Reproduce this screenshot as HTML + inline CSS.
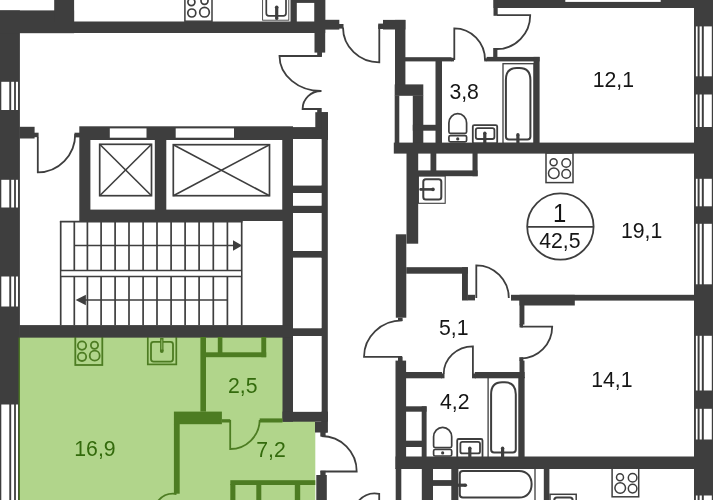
<!DOCTYPE html>
<html><head><meta charset="utf-8"><title>Floor plan</title>
<style>
html,body{margin:0;padding:0;background:#fff;}
body{width:713px;height:500px;overflow:hidden;}
svg{display:block;font-family:"Liberation Sans",Arial,sans-serif;will-change:transform;}
</style></head><body>
<svg width="713" height="500" viewBox="0 0 713 500">
<rect width="713" height="500" fill="#fff"/>
<rect x="19.5" y="337" width="264" height="163" fill="#b1d58b"/>
<rect x="282.5" y="421" width="32.8" height="79" fill="#b1d58b"/>
<rect x="0" y="10.4" width="19.9" height="490.6" fill="#3e3e3e"/>
<rect x="0" y="10.4" width="74.1" height="22.8" fill="#3e3e3e"/>
<rect x="54.2" y="0" width="19.9" height="22" fill="#3e3e3e"/>
<rect x="69" y="21.5" width="256.2" height="11.5" fill="#3e3e3e"/>
<rect x="290.5" y="0" width="34.7" height="22" fill="#3e3e3e"/>
<rect x="296.8" y="2.9" width="17.7" height="18.6" fill="#fff"/>
<rect x="314.5" y="0" width="10.7" height="52.6" fill="#3e3e3e"/>
<rect x="317.2" y="52" width="4.8" height="4.9" fill="#3e3e3e"/>
<rect x="325" y="19.8" width="14.3" height="9.8" fill="#3e3e3e"/>
<rect x="339" y="24" width="4.5" height="4.6" fill="#3e3e3e"/>
<rect x="315.3" y="112.2" width="12.7" height="15.8" fill="#3e3e3e"/>
<rect x="317.2" y="108" width="4.5" height="5" fill="#3e3e3e"/>
<rect x="1.3" y="81.8" width="8" height="28.2" fill="#fff"/>
<rect x="11.2" y="81.8" width="2.9" height="28.2" fill="#fff"/>
<rect x="15.9" y="81.8" width="2.1" height="28.2" fill="#fff"/>
<rect x="1.3" y="179.8" width="8" height="27.7" fill="#fff"/>
<rect x="11.2" y="179.8" width="2.9" height="27.7" fill="#fff"/>
<rect x="15.9" y="179.8" width="2.1" height="27.7" fill="#fff"/>
<rect x="1.3" y="276.5" width="8" height="30" fill="#fff"/>
<rect x="11.2" y="276.5" width="2.9" height="30" fill="#fff"/>
<rect x="15.9" y="276.5" width="2.1" height="30" fill="#fff"/>
<rect x="1.3" y="404.5" width="8" height="96.5" fill="#fff"/>
<rect x="11.2" y="404.5" width="2.9" height="96.5" fill="#fff"/>
<rect x="15.9" y="404.5" width="2.1" height="96.5" fill="#fff"/>
<rect x="18.6" y="337.5" width="1.3" height="163.5" fill="#4d7c22"/>
<rect x="19.5" y="126.8" width="15.1" height="11.7" fill="#3e3e3e"/>
<rect x="34" y="132.7" width="4.6" height="4.5" fill="#3e3e3e"/>
<rect x="74.5" y="132.7" width="5.5" height="4.7" fill="#3e3e3e"/>
<path d="M37.8 137 L37.8 172.3 A37.4 38 0 0 0 75.2 134" fill="none" stroke="#3e3e3e" stroke-width="1.8"/>
<rect x="79.3" y="126.3" width="213.7" height="94.7" fill="#3e3e3e"/>
<rect x="285.5" y="127.1" width="42.5" height="12.9" fill="#3e3e3e"/>
<rect x="90.4" y="140" width="64.4" height="69.6" fill="#fff"/>
<rect x="166.3" y="140" width="116.2" height="69.6" fill="#fff"/>
<rect x="109.8" y="128.4" width="36.7" height="9.3" fill="#fff"/>
<rect x="175.7" y="128.4" width="58.3" height="9.3" fill="#fff"/>
<rect x="99.7" y="144.3" width="51.8" height="51.4" fill="none" stroke="#3e3e3e" stroke-width="1.7"/>
<line x1="99.7" y1="144.3" x2="151.5" y2="195.7" stroke="#3e3e3e" stroke-width="1.6"/>
<line x1="151.5" y1="144.3" x2="99.7" y2="195.7" stroke="#3e3e3e" stroke-width="1.6"/>
<rect x="173.3" y="144.7" width="96.2" height="51" fill="none" stroke="#3e3e3e" stroke-width="1.7"/>
<line x1="173.3" y1="144.7" x2="269.5" y2="195.7" stroke="#3e3e3e" stroke-width="1.6"/>
<line x1="269.5" y1="144.7" x2="173.3" y2="195.7" stroke="#3e3e3e" stroke-width="1.6"/>
<rect x="282.5" y="127.1" width="10.5" height="294.6" fill="#3e3e3e"/>
<rect x="321.2" y="112.2" width="6.6" height="320.4" fill="#3e3e3e"/>
<rect x="282.5" y="411.6" width="45.5" height="10.1" fill="#3e3e3e"/>
<rect x="315" y="421.7" width="12.5" height="10.8" fill="#3e3e3e"/>
<rect x="320.3" y="432" width="5.3" height="4.6" fill="#3e3e3e"/>
<rect x="293" y="139" width="28.6" height="46.6" fill="#fff"/>
<rect x="293" y="193" width="28.6" height="12.8" fill="#fff"/>
<rect x="293" y="213" width="28.6" height="38" fill="#fff"/>
<rect x="293" y="257.6" width="28.6" height="70.7" fill="#fff"/>
<rect x="293" y="336" width="28.6" height="75.6" fill="#fff"/>
<rect x="292" y="185.6" width="31" height="7.4" fill="#3e3e3e"/>
<rect x="292" y="205.8" width="31" height="7.2" fill="#3e3e3e"/>
<rect x="292" y="251" width="31" height="6.6" fill="#3e3e3e"/>
<rect x="292" y="328.3" width="31" height="7.7" fill="#3e3e3e"/>
<line x1="60.7" y1="221" x2="60.7" y2="325.3" stroke="#3e3e3e" stroke-width="1.7"/>
<line x1="74.3" y1="221" x2="74.3" y2="325.3" stroke="#3e3e3e" stroke-width="1.7"/>
<line x1="87.4" y1="221" x2="87.4" y2="325.3" stroke="#3e3e3e" stroke-width="1.7"/>
<line x1="101.1" y1="221" x2="101.1" y2="325.3" stroke="#3e3e3e" stroke-width="1.7"/>
<line x1="115.1" y1="221" x2="115.1" y2="325.3" stroke="#3e3e3e" stroke-width="1.7"/>
<line x1="129" y1="221" x2="129" y2="325.3" stroke="#3e3e3e" stroke-width="1.7"/>
<line x1="143.1" y1="221" x2="143.1" y2="325.3" stroke="#3e3e3e" stroke-width="1.7"/>
<line x1="157" y1="221" x2="157" y2="325.3" stroke="#3e3e3e" stroke-width="1.7"/>
<line x1="171.1" y1="221" x2="171.1" y2="325.3" stroke="#3e3e3e" stroke-width="1.7"/>
<line x1="185.1" y1="221" x2="185.1" y2="325.3" stroke="#3e3e3e" stroke-width="1.7"/>
<line x1="199.1" y1="221" x2="199.1" y2="325.3" stroke="#3e3e3e" stroke-width="1.7"/>
<line x1="213.3" y1="221" x2="213.3" y2="325.3" stroke="#3e3e3e" stroke-width="1.7"/>
<line x1="227.4" y1="221" x2="227.4" y2="325.3" stroke="#3e3e3e" stroke-width="1.7"/>
<line x1="241.7" y1="221" x2="241.7" y2="325.3" stroke="#3e3e3e" stroke-width="1.7"/>
<line x1="59.9" y1="221.7" x2="242.5" y2="221.7" stroke="#3e3e3e" stroke-width="1.7"/>
<rect x="61.6" y="270.6" width="179.4" height="5.7" fill="#fff"/>
<line x1="60.6" y1="270.5" x2="242" y2="270.5" stroke="#3e3e3e" stroke-width="1.5"/>
<line x1="60.6" y1="276.4" x2="242" y2="276.4" stroke="#3e3e3e" stroke-width="1.5"/>
<line x1="74.3" y1="245.5" x2="236" y2="245.5" stroke="#3e3e3e" stroke-width="1.7"/>
<path d="M242.2 245.4 L233 240.2 L233 250.8 Z" fill="#3e3e3e" stroke="#3e3e3e" stroke-width="0"/>
<line x1="84" y1="300" x2="227.4" y2="300" stroke="#3e3e3e" stroke-width="1.7"/>
<path d="M75.6 300 L85.9 294.7 L85.9 305.3 Z" fill="#3e3e3e" stroke="#3e3e3e" stroke-width="0"/>
<rect x="19.5" y="325.3" width="273.5" height="12.1" fill="#3e3e3e"/>
<rect x="75.3" y="336" width="27" height="29" fill="none" stroke="#4d7c22" stroke-width="1.8"/>
<circle cx="82" cy="345.6" r="4.2" fill="none" stroke="#4d7c22" stroke-width="1.8"/>
<circle cx="94.5" cy="345.2" r="3.6" fill="none" stroke="#4d7c22" stroke-width="1.8"/>
<circle cx="82" cy="356.8" r="4.2" fill="none" stroke="#4d7c22" stroke-width="1.8"/>
<circle cx="94.7" cy="355.7" r="5" fill="none" stroke="#4d7c22" stroke-width="1.8"/>
<rect x="147.8" y="336" width="28.5" height="28.4" fill="none" stroke="#4d7c22" stroke-width="1.7"/>
<rect x="151" y="341.8" width="22" height="19.8" fill="none" stroke="#4d7c22" stroke-width="1.8" rx="2.5"/>
<line x1="161.8" y1="338" x2="161.8" y2="351" stroke="#4d7c22" stroke-width="3.4"/>
<circle cx="161.8" cy="351" r="1.9" fill="#4d7c22" stroke="#4d7c22" stroke-width="0"/>
<line x1="161.8" y1="339.5" x2="161.8" y2="349.5" stroke="#9cc474" stroke-width="0.9"/>
<rect x="19.5" y="325.3" width="273.5" height="12.1" fill="#3e3e3e"/>
<rect x="200.4" y="337" width="5.6" height="74.6" fill="#4d7c22"/>
<rect x="217.8" y="337" width="4.6" height="16" fill="#4d7c22"/>
<rect x="205" y="352.3" width="61.2" height="4.9" fill="#4d7c22"/>
<rect x="261.3" y="337" width="4.9" height="20.2" fill="#4d7c22"/>
<rect x="173.9" y="411.6" width="48" height="12.6" fill="#4d7c22"/>
<rect x="173.9" y="424" width="5.8" height="69.7" fill="#4d7c22"/>
<rect x="221.9" y="419.2" width="8.3" height="3.3" fill="#4d7c22"/>
<path d="M230.2 420 L230.2 449 A29.5 29.5 0 0 0 259.7 420" fill="none" stroke="#4d7c22" stroke-width="1.8"/>
<rect x="259.7" y="418.4" width="22.8" height="4.1" fill="#4d7c22"/>
<rect x="230.3" y="480.2" width="85" height="4.8" fill="#4d7c22"/>
<rect x="230.3" y="484" width="5.1" height="16" fill="#4d7c22"/>
<rect x="256.3" y="485" width="5" height="15" fill="#4d7c22"/>
<rect x="294.8" y="484" width="5.4" height="16" fill="#4d7c22"/>
<path d="M158 501 A 20 20 0 0 1 176.5 494" fill="none" stroke="#4d7c22" stroke-width="1.8"/>
<text transform="translate(74.3 455.8) scale(0.965 1)" fill="#336a0c" font-size="22" text-anchor="start">16,9</text>
<text transform="translate(228 392.9) scale(0.965 1)" fill="#336a0c" font-size="22" text-anchor="start">2,5</text>
<text transform="translate(256.3 456.8) scale(0.965 1)" fill="#336a0c" font-size="22" text-anchor="start">7,2</text>
<path d="M321 56 L279.5 56 A41.5 35 0 0 0 321.5 91 A18.7 18 0 0 0 302.6 109 L320 109" fill="none" stroke="#3e3e3e" stroke-width="1.8"/>
<path d="M343 27.5 A36.3 35 0 0 0 379.3 62.4 L379.3 25" fill="none" stroke="#3e3e3e" stroke-width="1.8"/>
<rect x="383" y="19.9" width="22.4" height="9.6" fill="#3e3e3e"/>
<rect x="378.2" y="23.6" width="5.3" height="5.4" fill="#3e3e3e"/>
<path d="M321.5 436 A35.2 35.5 0 0 1 356.7 471.5 L320.5 471.5" fill="none" stroke="#3e3e3e" stroke-width="1.8"/>
<rect x="316.3" y="475" width="10.5" height="25" fill="#3e3e3e"/>
<rect x="320.3" y="470.8" width="5.3" height="5.2" fill="#3e3e3e"/>
<path d="M358.6 501 A 21.5 21 0 0 1 379.2 493.8 L379.2 501" fill="none" stroke="#3e3e3e" stroke-width="1.8"/>
<rect x="395" y="19.9" width="10.4" height="65.1" fill="#3e3e3e"/>
<rect x="394.7" y="84.4" width="28.6" height="11.4" fill="#3e3e3e"/>
<rect x="394.7" y="95.5" width="4.6" height="47.5" fill="#3e3e3e"/>
<rect x="412.8" y="95.5" width="10.5" height="47.5" fill="#3e3e3e"/>
<rect x="405" y="57.2" width="46.5" height="4.2" fill="#3e3e3e"/>
<rect x="451" y="57.8" width="3" height="3.6" fill="#3e3e3e"/>
<rect x="435.5" y="61" width="6.5" height="82" fill="#3e3e3e"/>
<rect x="412.8" y="124.8" width="29.2" height="5.9" fill="#3e3e3e"/>
<path d="M454.3 60 L454.3 28.3 A30.7 31.5 0 0 1 485 60" fill="none" stroke="#3e3e3e" stroke-width="1.8"/>
<rect x="486.6" y="56.9" width="53" height="4.5" fill="#3e3e3e"/>
<rect x="484.2" y="58.3" width="2.8" height="3.1" fill="#3e3e3e"/>
<rect x="493.2" y="48" width="4.2" height="9.5" fill="#3e3e3e"/>
<rect x="493.5" y="0" width="219.5" height="8" fill="#3e3e3e"/>
<rect x="493.5" y="0" width="4.2" height="15.8" fill="#3e3e3e"/>
<rect x="565.3" y="0" width="95.4" height="1.9" fill="#fff"/>
<path d="M497 15.2 L530.2 15.2 A33.2 33.8 0 0 1 497 49" fill="none" stroke="#3e3e3e" stroke-width="1.8"/>
<rect x="533.6" y="56.9" width="6" height="86.1" fill="#3e3e3e"/>
<rect x="503" y="63.7" width="31" height="79.8" fill="none" stroke="#3e3e3e" stroke-width="1.3"/>
<path d="M505.9 136.6 L505.9 79.9 C505.9 71.4 509.9 67.9 516.9 67.9 L519.4 67.9 C526.4 67.9 530.4 71.4 530.4 79.9 L530.4 136.6 Q530.4 139.6 527.4 139.6 L508.9 139.6 Q505.9 139.6 505.9 136.6 Z" fill="none" stroke="#3e3e3e" stroke-width="2"/>
<line x1="517.9" y1="135" x2="517.9" y2="143" stroke="#3e3e3e" stroke-width="3.2"/>
<circle cx="517.9" cy="134.8" r="1.7" fill="#3e3e3e" stroke="#3e3e3e" stroke-width="0"/>
<path d="M448.9 131.8 L448.9 123.05 A8.85 9.35 0 0 1 466.6 123.05 L466.6 131.8 Q466.6 133.3 465.1 133.3 L450.4 133.3 Q448.9 133.3 448.9 131.8 Z" fill="none" stroke="#3e3e3e" stroke-width="1.7"/>
<rect x="448.9" y="135.6" width="17.7" height="6.2" fill="none" stroke="#3e3e3e" stroke-width="1.7" rx="1.5"/>
<circle cx="457.75" cy="138.9" r="1.6" fill="#3e3e3e" stroke="#3e3e3e" stroke-width="0"/>
<rect x="472.8" y="125.1" width="24.4" height="18.4" fill="none" stroke="#3e3e3e" stroke-width="1.8" rx="1.5"/>
<rect x="475.8" y="128.1" width="18.6" height="10.9" fill="none" stroke="#3e3e3e" stroke-width="1.8" rx="2"/>
<line x1="484.8" y1="133.3" x2="484.8" y2="143.5" stroke="#3e3e3e" stroke-width="3.2"/>
<circle cx="484.8" cy="133.3" r="1.7" fill="#3e3e3e" stroke="#3e3e3e" stroke-width="0"/>
<rect x="393.8" y="142.6" width="300.2" height="11" fill="#3e3e3e"/>
<rect x="406.5" y="153" width="11.7" height="90.7" fill="#3e3e3e"/>
<rect x="395.8" y="234.3" width="10.5" height="83.4" fill="#3e3e3e"/>
<rect x="418" y="170.4" width="59.6" height="5.8" fill="#3e3e3e"/>
<rect x="430.5" y="153" width="5.8" height="18" fill="#3e3e3e"/>
<rect x="472.5" y="153" width="5.1" height="23.2" fill="#3e3e3e"/>
<rect x="418.4" y="176" width="26.8" height="27.3" fill="none" stroke="#3e3e3e" stroke-width="1.1"/>
<rect x="423.3" y="179.3" width="18" height="20.1" fill="none" stroke="#3e3e3e" stroke-width="2" rx="2.5"/>
<line x1="420.6" y1="189.4" x2="432.6" y2="189.4" stroke="#3e3e3e" stroke-width="2.6"/>
<circle cx="420.6" cy="189.4" r="1.3" fill="#3e3e3e" stroke="#3e3e3e" stroke-width="0"/>
<circle cx="433" cy="189.4" r="1.8" fill="#3e3e3e" stroke="#3e3e3e" stroke-width="0"/>
<rect x="546" y="153" width="27" height="29.6" fill="none" stroke="#3e3e3e" stroke-width="1.5"/>
<circle cx="553.6" cy="162.3" r="3.5" fill="none" stroke="#3e3e3e" stroke-width="1.5"/>
<circle cx="566.2" cy="163" r="4.3" fill="none" stroke="#3e3e3e" stroke-width="1.5"/>
<circle cx="553.8" cy="173.3" r="5.3" fill="none" stroke="#3e3e3e" stroke-width="1.5"/>
<circle cx="566.2" cy="173.9" r="4.3" fill="none" stroke="#3e3e3e" stroke-width="1.5"/>
<circle cx="560.4" cy="226.5" r="33.2" fill="none" stroke="#3e3e3e" stroke-width="1.8"/>
<line x1="527.5" y1="226.8" x2="593.5" y2="226.8" stroke="#3e3e3e" stroke-width="1.8"/>
<text transform="translate(559.6 221.6) scale(0.9 1)" fill="#151515" font-size="26.5" text-anchor="middle">1</text>
<text transform="translate(559.8 247.5) scale(0.965 1)" fill="#151515" font-size="22" text-anchor="middle">42,5</text>
<text transform="translate(621 237.5) scale(0.965 1)" fill="#151515" font-size="22" text-anchor="start">19,1</text>
<text transform="translate(592.7 86.5) scale(0.965 1)" fill="#151515" font-size="22" text-anchor="start">12,1</text>
<text transform="translate(449.4 99) scale(0.965 1)" fill="#151515" font-size="22" text-anchor="start">3,8</text>
<text transform="translate(439 334.6) scale(0.965 1)" fill="#151515" font-size="22" text-anchor="start">5,1</text>
<text transform="translate(440 408.6) scale(0.965 1)" fill="#151515" font-size="22" text-anchor="start">4,2</text>
<text transform="translate(591.2 387.4) scale(0.965 1)" fill="#151515" font-size="22" text-anchor="start">14,1</text>
<rect x="694" y="0" width="19" height="500" fill="#3e3e3e"/>
<rect x="695.9" y="26.4" width="1.7" height="49.9" fill="#fff"/>
<rect x="699.6" y="26.4" width="2.2" height="49.9" fill="#fff"/>
<rect x="703.8" y="26.4" width="8" height="49.9" fill="#fff"/>
<rect x="695.9" y="94.5" width="1.7" height="32.5" fill="#fff"/>
<rect x="699.6" y="94.5" width="2.2" height="32.5" fill="#fff"/>
<rect x="703.8" y="94.5" width="8" height="32.5" fill="#fff"/>
<rect x="695.9" y="178.8" width="1.7" height="27.5" fill="#fff"/>
<rect x="699.6" y="178.8" width="2.2" height="27.5" fill="#fff"/>
<rect x="703.8" y="178.8" width="8" height="27.5" fill="#fff"/>
<rect x="695.9" y="223.8" width="1.7" height="60.5" fill="#fff"/>
<rect x="699.6" y="223.8" width="2.2" height="60.5" fill="#fff"/>
<rect x="703.8" y="223.8" width="8" height="60.5" fill="#fff"/>
<rect x="695.9" y="335.8" width="1.7" height="54.7" fill="#fff"/>
<rect x="699.6" y="335.8" width="2.2" height="54.7" fill="#fff"/>
<rect x="703.8" y="335.8" width="8" height="54.7" fill="#fff"/>
<rect x="695.9" y="408.8" width="1.7" height="30.7" fill="#fff"/>
<rect x="699.6" y="408.8" width="2.2" height="30.7" fill="#fff"/>
<rect x="703.8" y="408.8" width="8" height="30.7" fill="#fff"/>
<rect x="695.9" y="495.5" width="1.7" height="5.5" fill="#fff"/>
<rect x="699.6" y="495.5" width="2.2" height="5.5" fill="#fff"/>
<rect x="703.8" y="495.5" width="8" height="5.5" fill="#fff"/>
<rect x="406.3" y="267.2" width="61.6" height="6.5" fill="#3e3e3e"/>
<rect x="462" y="267.2" width="5.9" height="33.3" fill="#3e3e3e"/>
<rect x="467.7" y="294.8" width="7.3" height="5.6" fill="#3e3e3e"/>
<path d="M476.3 298 L476.3 265.4 A32.5 32.6 0 0 1 508.8 298" fill="none" stroke="#3e3e3e" stroke-width="1.8"/>
<rect x="398" y="317.7" width="4.6" height="3.3" fill="#3e3e3e"/>
<path d="M402.3 320.4 A38.3 36.5 0 0 0 364 356.9 L402 356.9" fill="none" stroke="#3e3e3e" stroke-width="1.8"/>
<rect x="398" y="356.6" width="4.6" height="4.4" fill="#3e3e3e"/>
<rect x="395.5" y="360.6" width="10.6" height="108.4" fill="#3e3e3e"/>
<rect x="395.7" y="468" width="5.6" height="32" fill="#3e3e3e"/>
<rect x="406" y="372" width="36" height="6.3" fill="#3e3e3e"/>
<rect x="441" y="373.5" width="3.5" height="4.8" fill="#3e3e3e"/>
<rect x="474.8" y="372" width="49.8" height="6.3" fill="#3e3e3e"/>
<rect x="472" y="373.5" width="4" height="4.8" fill="#3e3e3e"/>
<path d="M472.9 374 L472.9 346.3 A29.2 27.7 0 0 0 443.7 374" fill="none" stroke="#3e3e3e" stroke-width="1.8"/>
<rect x="511" y="294.8" width="183" height="5.8" fill="#3e3e3e"/>
<rect x="519.5" y="294.8" width="55.3" height="10.7" fill="#3e3e3e"/>
<rect x="519.5" y="300" width="4.9" height="24.6" fill="#3e3e3e"/>
<rect x="519.5" y="324" width="3.5" height="3.4" fill="#3e3e3e"/>
<path d="M520.5 326.6 L552.2 326.6 A31.7 32 0 0 1 520.5 358.6" fill="none" stroke="#3e3e3e" stroke-width="1.8"/>
<rect x="519.3" y="357.2" width="4" height="3.8" fill="#3e3e3e"/>
<rect x="519.5" y="360.6" width="5" height="17.4" fill="#3e3e3e"/>
<rect x="518.8" y="377" width="5.8" height="80" fill="#3e3e3e"/>
<rect x="406" y="406.3" width="20.6" height="5.4" fill="#3e3e3e"/>
<rect x="421.7" y="406.3" width="4.9" height="50.7" fill="#3e3e3e"/>
<rect x="406" y="440.7" width="16" height="6.3" fill="#3e3e3e"/>
<rect x="395.5" y="456.5" width="298.5" height="12.5" fill="#3e3e3e"/>
<path d="M433.6 446.1 L433.6 436.85 A9.05 9.55 0 0 1 451.7 436.85 L451.7 446.1 Q451.7 447.6 450.2 447.6 L435.1 447.6 Q433.6 447.6 433.6 446.1 Z" fill="none" stroke="#3e3e3e" stroke-width="1.7"/>
<rect x="433.6" y="449.5" width="18.1" height="6.5" fill="none" stroke="#3e3e3e" stroke-width="1.7" rx="1.5"/>
<circle cx="442.65" cy="452.95" r="1.6" fill="#3e3e3e" stroke="#3e3e3e" stroke-width="0"/>
<rect x="457.2" y="439" width="25.3" height="19" fill="none" stroke="#3e3e3e" stroke-width="1.8" rx="1.5"/>
<rect x="460.4" y="441.8" width="19.6" height="11.6" fill="none" stroke="#3e3e3e" stroke-width="1.8" rx="2"/>
<line x1="469.8" y1="448.3" x2="469.8" y2="458" stroke="#3e3e3e" stroke-width="3.2"/>
<circle cx="469.8" cy="448.3" r="1.7" fill="#3e3e3e" stroke="#3e3e3e" stroke-width="0"/>
<rect x="488.1" y="377" width="30.9" height="81" fill="none" stroke="#3e3e3e" stroke-width="1.3"/>
<path d="M491.1 449.6 L491.1 394.3 C491.1 385.8 495.1 382.3 502.1 382.3 L504.8 382.3 C511.8 382.3 515.8 385.8 515.8 394.3 L515.8 449.6 Q515.8 452.6 512.8 452.6 L494.1 452.6 Q491.1 452.6 491.1 449.6 Z" fill="none" stroke="#3e3e3e" stroke-width="2"/>
<line x1="502.6" y1="448.5" x2="502.6" y2="457" stroke="#3e3e3e" stroke-width="3.2"/>
<circle cx="502.6" cy="448.3" r="1.7" fill="#3e3e3e" stroke="#3e3e3e" stroke-width="0"/>
<rect x="421.8" y="468" width="11.2" height="32" fill="#3e3e3e"/>
<rect x="432" y="480.1" width="21" height="5.8" fill="#3e3e3e"/>
<rect x="451.3" y="468" width="7.1" height="32" fill="#3e3e3e"/>
<rect x="457" y="468" width="78" height="35" fill="none" stroke="#3e3e3e" stroke-width="1.3"/>
<path d="M459.8 474 Q459.8 470.9 462.9 470.9 L519 470.9 C527.5 470.9 531.6 477 531.6 484.2 C531.6 491.4 527.5 497.5 519 497.5 L462.9 497.5 Q459.8 497.5 459.8 494.4 Z" fill="none" stroke="#3e3e3e" stroke-width="2"/>
<line x1="457.8" y1="485.2" x2="465.2" y2="485.2" stroke="#3e3e3e" stroke-width="3.2"/>
<circle cx="465.4" cy="485.2" r="1.7" fill="#3e3e3e" stroke="#3e3e3e" stroke-width="0"/>
<rect x="543.8" y="468" width="5.6" height="32" fill="#3e3e3e"/>
<rect x="612.1" y="467" width="26.6" height="29.8" fill="none" stroke="#3e3e3e" stroke-width="1.5"/>
<circle cx="620" cy="477.2" r="3.5" fill="none" stroke="#3e3e3e" stroke-width="1.5"/>
<circle cx="632.6" cy="477.7" r="4.3" fill="none" stroke="#3e3e3e" stroke-width="1.5"/>
<circle cx="620.2" cy="488" r="5.3" fill="none" stroke="#3e3e3e" stroke-width="1.5"/>
<circle cx="632.6" cy="488.6" r="4.3" fill="none" stroke="#3e3e3e" stroke-width="1.5"/>
<rect x="550" y="494.3" width="26.2" height="8.7" fill="none" stroke="#3e3e3e" stroke-width="1.5"/>
<rect x="554.3" y="497.4" width="18.3" height="7.6" fill="none" stroke="#3e3e3e" stroke-width="2" rx="2.5"/>
<rect x="184.9" y="-8" width="27.1" height="29.2" fill="none" stroke="#3e3e3e" stroke-width="1.5"/>
<circle cx="191.4" cy="2.1" r="3.5" fill="none" stroke="#3e3e3e" stroke-width="1.7"/>
<circle cx="204.5" cy="0.8" r="3.5" fill="none" stroke="#3e3e3e" stroke-width="1.7"/>
<circle cx="191.8" cy="13" r="4" fill="none" stroke="#3e3e3e" stroke-width="1.7"/>
<circle cx="204.5" cy="12.2" r="4.8" fill="none" stroke="#3e3e3e" stroke-width="1.7"/>
<rect x="262.6" y="-8" width="26.2" height="28.2" fill="none" stroke="#3e3e3e" stroke-width="0.9"/>
<rect x="266.3" y="-8" width="19.7" height="23.8" fill="none" stroke="#3e3e3e" stroke-width="1.7" rx="2.5"/>
<line x1="276.7" y1="7.5" x2="276.7" y2="18.6" stroke="#3e3e3e" stroke-width="3.2"/>
<circle cx="276.7" cy="7.3" r="1.8" fill="#3e3e3e" stroke="#3e3e3e" stroke-width="0"/>
<circle cx="276.7" cy="18.4" r="1.6" fill="#3e3e3e" stroke="#3e3e3e" stroke-width="0"/>
</svg>
</body></html>
